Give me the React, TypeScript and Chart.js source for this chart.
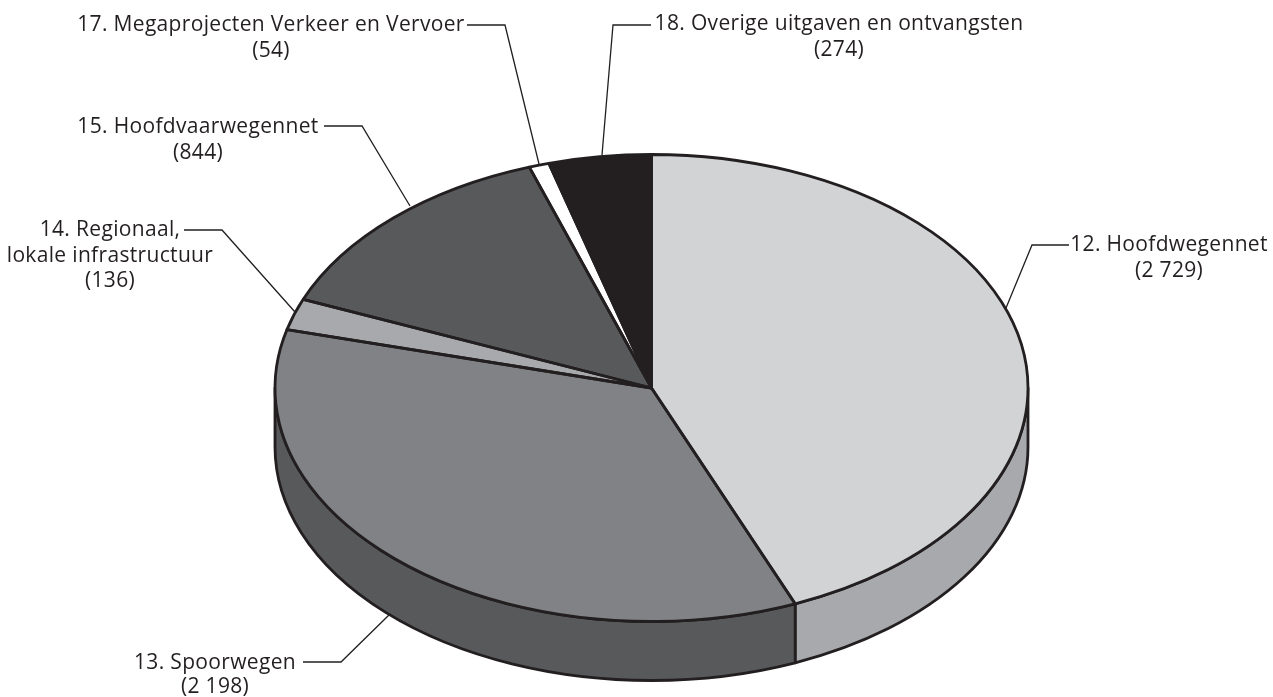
import React, { useEffect, useRef } from "react";
import { Chart, registerables } from "chart.js";

Chart.register(...registerables);

const categories = [
  "12. Hoofdwegennet",
  "13. Spoorwegen",
  "14. Regionaal, lokale infrastructuur",
  "15. Hoofdvaarwegennet",
  "17. Megaprojecten Verkeer en Vervoer",
  "18. Overige uitgaven en ontvangsten",
];
const values = [2729, 2198, 136, 844, 54, 274];
const topColors = ["#d1d3d4", "#808285", "#a7a9ac", "#58595b", "#ffffff", "#231f20"];
const sideColors = ["#a7a9ac", "#58595b", "#a7a9ac", "#58595b", "#ffffff", "#231f20"];

const INK = "#231f20";
const FONT = '21px "Open Sans"';
const CENTER_X = 651.5;
const CENTER_Y = 388;
const RADIUS_X = 376.5;
const RADIUS_Y = 233.5;
const DEPTH = 59;
const EDGE = 2.8;

type Callout = { lines: string[]; x: number; y: number[]; leader: number[][] };
const callouts: Callout[] = [
  { lines: ["12. Hoofdwegennet", "(2 729)"], x: 1169, y: [251, 277], leader: [[1069, 245], [1032, 245], [1006, 308]] },
  { lines: ["13. Spoorwegen", "(2 198)"], x: 215, y: [669, 693], leader: [[303, 662], [341, 662], [389, 615]] },
  { lines: ["14. Regionaal,", "lokale infrastructuur", "(136)"], x: 110, y: [236, 262, 287], leader: [[184, 230], [222, 230], [295, 312]] },
  { lines: ["15. Hoofdvaarwegennet", "(844)"], x: 198, y: [133, 159], leader: [[324, 126], [362, 126], [410, 206]] },
  { lines: ["17. Megaprojecten Verkeer en Vervoer", "(54)"], x: 271, y: [31, 57], leader: [[467, 25], [505, 25], [539, 164]] },
  { lines: ["18. Overige uitgaven en ontvangsten", "(274)"], x: 839, y: [30, 56], leader: [[651, 25], [613, 25], [602, 155]] },
];

const pie3d = {
  id: "pie3d",
  beforeDatasetsDraw(chart: any) {
    const { ctx } = chart;
    const arcs = chart.getDatasetMeta(0).data;
    const R = arcs[0].outerRadius;
    ctx.save();
    ctx.strokeStyle = INK;
    ctx.lineWidth = 1.3;
    for (const c of callouts) {
      ctx.beginPath();
      c.leader.forEach(([x, y], i) => (i ? ctx.lineTo(x, y) : ctx.moveTo(x, y)));
      ctx.stroke();
    }
    ctx.lineWidth = EDGE;
    ctx.lineJoin = "round";
    arcs.forEach((el: any, i: number) => {
      const a = Math.max(el.startAngle, 0);
      const b = Math.min(el.endAngle, Math.PI);
      if (b <= a) return;
      ctx.beginPath();
      ctx.ellipse(CENTER_X, CENTER_Y, RADIUS_X, RADIUS_Y, 0, a, b);
      ctx.ellipse(CENTER_X, CENTER_Y + DEPTH, RADIUS_X, RADIUS_Y, 0, b, a, true);
      ctx.closePath();
      ctx.fillStyle = sideColors[i];
      ctx.fill();
      ctx.stroke();
    });
    ctx.restore();
    ctx.save();
    ctx.translate(CENTER_X, CENTER_Y);
    ctx.scale(RADIUS_X / R, RADIUS_Y / R);
    ctx.translate(-arcs[0].x, -arcs[0].y);
  },
  afterDatasetsDraw(chart: any) {
    const { ctx } = chart;
    ctx.restore();
    const arcs = chart.getDatasetMeta(0).data;
    ctx.save();
    ctx.strokeStyle = INK;
    ctx.lineWidth = EDGE;
    ctx.lineJoin = "round";
    arcs.forEach((el: any) => {
      ctx.beginPath();
      ctx.moveTo(CENTER_X, CENTER_Y);
      ctx.ellipse(CENTER_X, CENTER_Y, RADIUS_X, RADIUS_Y, 0, el.startAngle, el.endAngle);
      ctx.closePath();
      ctx.stroke();
    });
    ctx.fillStyle = INK;
    ctx.font = FONT;
    ctx.letterSpacing = "0.33px";
    ctx.textAlign = "center";
    ctx.textBaseline = "alphabetic";
    for (const c of callouts) {
      c.lines.forEach((t, i) => ctx.fillText(t, c.x, c.y[i]));
    }
    ctx.restore();
  },
};

export default function App() {
  const ref = useRef<HTMLCanvasElement>(null);
  useEffect(() => {
    const chart = new Chart(ref.current!, {
      type: "pie",
      data: {
        labels: categories,
        datasets: [{ data: values, backgroundColor: topColors, borderWidth: 0, clip: false } as any],
      },
      options: {
        animation: false,
        responsive: false,
        layout: { padding: { left: 351.5, right: 321.5, top: 88, bottom: 9 } },
        plugins: { legend: { display: false }, tooltip: { enabled: false }, title: { display: false } },
      },
      plugins: [pie3d],
    });
    return () => chart.destroy();
  }, []);
  return (
    <canvas
      ref={ref}
      width={1273}
      height={697}
      style={{ position: "fixed", left: 0, top: 0, width: 1273, height: 697, display: "block" }}
    />
  );
}
